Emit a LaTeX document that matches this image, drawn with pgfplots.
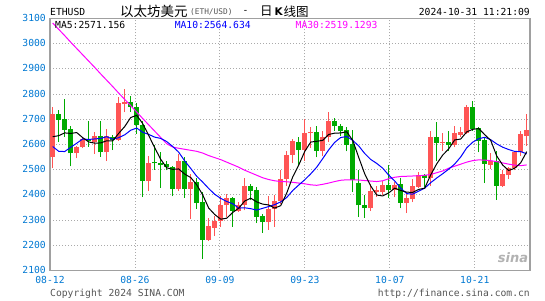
\documentclass[border=0pt]{standalone}
\usepackage{pgfplots}
\pgfplotsset{compat=1.18}
\usepackage{pgfplotstable}
\usepackage{fontspec}
\setmainfont{DejaVu Sans}
\newfontfamily\dmono{DejaVu Sans Mono}
\newfontfamily\cjk{Noto Sans CJK SC}
\definecolor{cred}{RGB}{255,85,85}
\definecolor{cgreen}{RGB}{0,170,0}
\definecolor{tickblue}{RGB}{0,120,210}
\definecolor{gridgray}{RGB}{170,170,170}
\definecolor{bordergray}{RGB}{160,160,160}
\definecolor{txtgray}{RGB}{85,85,85}
\definecolor{mablue}{RGB}{0,0,255}
\definecolor{mamag}{RGB}{255,0,255}
\newcommand{\mf}{\dmono\fontsize{9.7}{10}\selectfont}

% up (red) candles: i open high low close
\pgfplotstableread{
i o h l c
0 2552 2750 2506 2723
4 2565 2595 2545 2592
5 2589 2631 2585 2622
7 2609 2648 2563 2635
9 2569 2662 2534 2635
11 2618 2787 2615 2763
12 2760 2820 2727 2770
16 2455 2556 2415 2528
21 2424 2563 2415 2536
23 2424 2484 2306 2451
26 2222 2310 2217 2275
27 2270 2315 2236 2296
28 2296 2394 2273 2358
29 2358 2404 2312 2386
31 2336 2371 2333 2361
32 2361 2468 2339 2437
36 2292 2394 2262 2345
37 2345 2398 2273 2374
38 2374 2497 2365 2464
39 2464 2576 2437 2560
40 2560 2622 2526 2613
42 2578 2701 2536 2646
43 2644 2671 2586 2651
45 2576 2655 2556 2631
46 2631 2730 2609 2695
53 2347 2444 2336 2414
54 2412 2437 2392 2420
55 2411 2457 2400 2441
57 2418 2450 2390 2441
59 2368 2412 2328 2386
60 2383 2462 2371 2437
61 2433 2490 2428 2477
63 2466 2655 2435 2631
65 2605 2646 2576 2611
67 2600 2675 2589 2644
68 2639 2668 2629 2648
69 2644 2758 2642 2747
73 2520 2565 2503 2536
75 2437 2499 2431 2481
76 2477 2510 2464 2507
77 2507 2573 2497 2569
78 2569 2655 2556 2642
79 2635 2721 2596 2658
}\up

% down (green) candles: i open high low close
\pgfplotstableread{
i o h l c
1 2723 2737 2609 2698
2 2701 2781 2629 2659
3 2663 2675 2513 2565
6 2621 2692 2592 2613
8 2635 2694 2552 2569
10 2631 2637 2578 2619
13 2770 2793 2730 2748
14 2747 2763 2642 2679
15 2679 2694 2391 2455
17 2529 2600 2499 2525
18 2526 2569 2428 2519
19 2523 2534 2497 2510
20 2512 2516 2394 2424
22 2536 2552 2389 2424
24 2451 2468 2344 2367
25 2371 2411 2147 2222
30 2386 2391 2273 2336
33 2437 2444 2378 2415
34 2418 2431 2288 2312
35 2316 2325 2249 2292
41 2611 2631 2519 2578
44 2651 2675 2549 2576
47 2695 2704 2655 2672
48 2675 2681 2635 2655
49 2659 2668 2573 2600
50 2602 2658 2411 2460
51 2447 2499 2312 2358
52 2361 2400 2309 2347
56 2441 2520 2388 2418
58 2442 2468 2347 2368
62 2477 2484 2431 2466
64 2631 2688 2535 2605
66 2611 2655 2573 2600
70 2747 2771 2655 2662
71 2664 2668 2569 2615
72 2618 2626 2447 2523
74 2536 2575 2381 2437
}\down

% moving averages
\pgfplotstableread{
i ma5 ma10 ma30
0 2631 2592 3082
1 2635 2573 3057
2 2646 2572 3032
3 2644 2589 3006
4 2647.4 2605 2981
5 2627.2 2622 2956
6 2610.2 2620 2931
7 2605.4 2622 2906
8 2606.2 2624 2880
9 2614.8 2631.1 2855
10 2614.2 2620.7 2830
11 2644.2 2627.2 2804
12 2671.2 2638.3 2779
13 2707.0 2656.6 2754
14 2715.8 2665.3 2729
15 2683.0 2648.6 2703
16 2636.0 2640.1 2678
17 2587.2 2629.2 2653
18 2541.4 2624.2 2628
19 2507.6 2611.7 2603
20 2501.4 2592.2 2590
21 2503.0 2569.5 2585
22 2482.6 2534.9 2581
23 2469.0 2505.2 2577
24 2440.4 2474.0 2573
25 2400.0 2450.7 2566
26 2347.8 2425.4 2556
27 2322.2 2402.4 2548
28 2303.6 2386.3 2540
29 2307.4 2373.9 2530
30 2330.2 2365.1 2520
31 2347.4 2347.6 2510
32 2375.6 2348.9 2498
33 2387.0 2345.3 2488
34 2372.2 2339.8 2478
35 2363.4 2346.8 2468
36 2360.2 2353.8 2461
37 2347.6 2361.6 2456
38 2357.4 2372.2 2453
39 2407.0 2389.6 2452
40 2471.2 2417.3 2450
41 2517.8 2439.0 2447
42 2572.2 2459.9 2444
43 2609.6 2483.5 2440
44 2612.8 2509.9 2438
45 2616.4 2543.8 2442
46 2639.8 2578.8 2447
47 2645.0 2608.6 2453
48 2645.8 2627.7 2458
49 2650.6 2631.7 2460
50 2616.4 2616.4 2460
51 2549.0 2594.4 2459
52 2483.8 2564.4 2457
53 2435.6 2540.7 2455
54 2399.6 2525.1 2453
55 2395.8 2506.1 2456
56 2407.8 2478.4 2464
57 2426.8 2455.3 2470
58 2417.6 2426.6 2473
59 2410.8 2405.2 2474
60 2410.0 2402.9 2475
61 2421.8 2414.8 2476
62 2426.8 2426.8 2478
63 2479.4 2448.5 2481
64 2523.2 2467.0 2488
65 2558.0 2484.0 2495
66 2582.6 2502.2 2506
67 2618.2 2522.5 2514
68 2621.6 2550.5 2522
69 2650.0 2586.6 2530
70 2660.2 2609.1 2536
71 2663.2 2622.9 2539
72 2639.0 2628.6 2538
73 2616.6 2619.1 2536
74 2554.6 2602.3 2532
75 2518.4 2589.3 2527
76 2496.8 2580.0 2522
77 2506.0 2572.5 2518
78 2527.2 2571.9 2516
79 2571.4 2563.0 2519
}\ma

\begin{document}
\begin{tikzpicture}
\useasboundingbox (0,0) rectangle (545pt,300pt);
\begin{axis}[
  at={(50pt,29.5pt)}, anchor=south west,
  scale only axis, width=480pt, height=252pt,
  xmin=-0.45, xmax=79.55, ymin=2100, ymax=3100,
  axis line style={draw=bordergray, line width=1.2pt},
  xtick={-0.45,13.71,27.87,42.03,56.19,70.35},
  xticklabels={08-12,08-26,09-09,09-23,10-07,10-21},
  ytick={2100,2200,2300,2400,2500,2600,2700,2800,2900,3000,3100},
  yticklabels={2100,2200,2300,2400,2500,2600,2700,2800,2900,3000,3100},
  major tick length=0pt,
  grid=major,
  major grid style={draw=gridgray, dash pattern=on 1pt off 2pt, line width=0.9pt},
  tick label style={font=\mf, text=tickblue},
  yticklabel style={anchor=east, inner sep=0pt, xshift=-4pt, yshift=0.5pt},
  xticklabel style={anchor=north, inner sep=0pt, yshift=-6pt},
]
% wicks
\addplot[draw=none, mark=none, forget plot,
  error bars/.cd, y dir=plus, y explicit, error mark=none,
  error bar style={draw=cred, line width=1pt}]
  table[x=i, y=l, y error expr=\thisrow{h}-\thisrow{l}] {\up};
\addplot[draw=none, mark=none, forget plot,
  error bars/.cd, y dir=plus, y explicit, error mark=none,
  error bar style={draw=cgreen, line width=1pt}]
  table[x=i, y=l, y error expr=\thisrow{h}-\thisrow{l}] {\down};
% bodies
\addplot[draw=none, mark=none, forget plot,
  error bars/.cd, y dir=plus, y explicit, error mark=none,
  error bar style={draw=cred, line width=4.8pt}]
  table[x=i, y=o, y error expr=\thisrow{c}-\thisrow{o}] {\up};
\addplot[draw=none, mark=none, forget plot,
  error bars/.cd, y dir=plus, y explicit, error mark=none,
  error bar style={draw=cgreen, line width=4.8pt}]
  table[x=i, y=c, y error expr=\thisrow{o}-\thisrow{c}] {\down};
% moving averages
\addplot[mamag, line width=1pt, mark=none] table[x=i, y=ma30] {\ma};
\addplot[mablue, line width=1pt, mark=none] table[x=i, y=ma10] {\ma};
\addplot[black, line width=1pt, mark=none] table[x=i, y=ma5] {\ma};
\end{axis}
% header
\node[anchor=west, inner sep=0pt] at (50pt,288.5pt) {\mf ETHUSD};
\node[anchor=west, inner sep=0pt] at (120pt,288.5pt) {\cjk\fontsize{13.5}{14}\selectfont 以太坊美元};
\node[anchor=west, inner sep=0pt, text=txtgray] at (190pt,288pt) {\dmono\fontsize{7.8}{8}\selectfont (ETH/USD)};
\node[anchor=center, inner sep=0pt] at (245.5pt,288.5pt) {\mf -};
\node[anchor=west, inner sep=0pt] at (260pt,288.5pt) {\cjk\fontsize{12.5}{13}\selectfont 日};
\node[anchor=west, inner sep=0pt] at (274.5pt,288.5pt) {\fontsize{10.5}{12}\selectfont\bfseries K};
\node[anchor=west, inner sep=0pt] at (283.5pt,288.5pt) {\cjk\fontsize{12.5}{13}\selectfont 线图};
\node[anchor=east, inner sep=0pt] at (530pt,288.5pt) {\mf 2024-10-31 11:21:09};
% MA labels
\node[anchor=west, inner sep=0pt] at (55pt,275pt) {\mf MA5:2571.156};
\node[anchor=west, inner sep=0pt, text=mablue] at (174.6pt,275pt) {\mf MA10:2564.634};
\node[anchor=west, inner sep=0pt, text=mamag] at (295.5pt,275pt) {\mf MA30:2519.1293};
% watermark
\node[anchor=center, inner sep=0pt, text=black!30] at (513pt,42pt) {\fontsize{13}{14}\selectfont\bfseries\itshape sina};
% footer
\node[anchor=west, inner sep=0pt, text=txtgray] at (50pt,6pt) {\mf Copyright 2024 SINA.COM};
\node[anchor=east, inner sep=0pt, text=txtgray] at (530pt,6pt) {\mf http://finance.sina.com.cn};
\end{tikzpicture}
\end{document}
